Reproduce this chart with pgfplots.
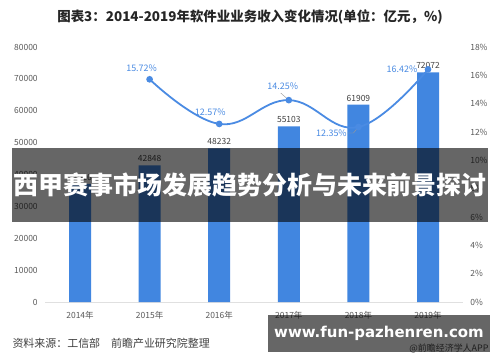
\documentclass[border=0pt]{standalone}
\usepackage{pgfplots}
\pgfplotsset{compat=1.18}
\usepackage{fontspec}
\setmainfont{Noto Sans CJK SC}
\newfontfamily\latinfont{DejaVu Sans}
\definecolor{barblue}{HTML}{4186E0}
\definecolor{lineblue}{HTML}{4A8BE3}
\definecolor{ticktxt}{HTML}{595959}
\definecolor{valtxt}{HTML}{404040}
\begin{document}
\begin{tikzpicture}[x=1bp,y=1bp]
\path[use as bounding box, fill=white] (0,0) rectangle (500,362);
\begin{axis}[
  at={(45.2bp,60bp)}, anchor=south west,
  scale only axis, width=417.6bp, height=255bp,
  xmin=-0.5, xmax=5.5, ymin=0, ymax=80000,
  xtick={0,1,2,3,4,5},
  xticklabels={2014年,2015年,2016年,2017年,2018年,2019年},
  ytick={0,10000,20000,30000,40000,50000,60000,70000,80000},
  scaled y ticks=false,
  /pgf/number format/assume math mode=true,
  yticklabel={\pgfmathprintnumber[fixed,1000 sep={}]{\tick}},
  axis lines*=left,
  y axis line style={draw=none},
  x axis line style={draw=black!12, line width=0.8pt},
  major tick length=0pt,
  tick label style={font=\fontsize{8.5}{10}\selectfont, text=ticktxt},
  yticklabel style={xshift=-4bp},
  xticklabel style={yshift=-6bp},
  clip=false,
]
\addplot[ybar, bar width=22bp, fill=barblue, draw=none,
  nodes near coords,
  nodes near coords style={font=\fontsize{8.5}{10}\selectfont, text=valtxt},
  point meta=explicit symbolic]
  coordinates {(0,37026)[37026] (1,42848)[42848] (2,48232)[48232] (3,55103)[55103] (4,61909)[61909] (5,72072)[72072]};
\end{axis}
\begin{axis}[
  at={(45.2bp,60bp)}, anchor=south west,
  scale only axis, width=417.6bp, height=255bp,
  xmin=-0.5, xmax=5.5, ymin=0, ymax=18,
  axis x line=none,
  axis y line*=right,
  y axis line style={draw=none},
  major tick length=0pt,
  ytick={0,2,4,6,8,10,12,14,16,18},
  yticklabel={\pgfmathprintnumber{\tick}\%},
  /pgf/number format/assume math mode=true,
  tick label style={font=\fontsize{8.5}{10}\selectfont, text=ticktxt},
  yticklabel style={xshift=4bp},
  clip=false,
]
\addplot[lineblue, line width=1.8pt, smooth, tension=0.7, mark=*, mark size=2.4pt, mark options={fill=lineblue, draw=lineblue}]
  coordinates {(1,15.72) (2,12.57) (3,14.25) (4,12.35) (5,16.42)};
\draw[black!40, line width=0.4pt] ([shift={(-8bp,7bp)}]axis cs:3,14.25) -- (axis cs:3,14.25);
\draw[black!40, line width=0.4pt] ([shift={(-11bp,-6bp)}]axis cs:4,12.35) -- ([shift={(-5bp,-6bp)}]axis cs:4,12.35) -- ([shift={(-1bp,-1bp)}]axis cs:4,12.35);
\node[text=lineblue, font=\fontsize{9}{10}\selectfont] at ([shift={(-8bp,11bp)}]axis cs:1,15.72) {15.72\%};
\node[text=lineblue, font=\fontsize{9}{10}\selectfont] at ([shift={(-9bp,12bp)}]axis cs:2,12.57) {12.57\%};
\node[text=lineblue, font=\fontsize{9}{10}\selectfont] at ([shift={(-6bp,14bp)}]axis cs:3,14.25) {14.25\%};
\node[text=lineblue, font=\fontsize{9}{10}\selectfont] at ([shift={(-27bp,-6bp)}]axis cs:4,12.35) {12.35\%};
\node[text=lineblue, font=\fontsize{9}{10}\selectfont] at ([shift={(-26bp,0bp)}]axis cs:5,16.42) {16.42\%};
\end{axis}
% title and source
\node[font=\bfseries\fontsize{13.5}{15}\selectfont, text=black!85] at (250,345) {图表3：2014-2019年软件业业务收入变化情况(单位：亿元，\%)};
\node[anchor=west, font=\fontsize{11}{12}\selectfont, text=black!75] at (9,19) {资料来源：工信部\quad 前瞻产业研究院整理};
\node[anchor=east, font=\fontsize{9}{11}\selectfont, text=black!70] at (492,14) {@前瞻经济学人APP};
% overlay banners
\fill[black, opacity=0.6] (12,140) rectangle (488,214);
\node[text=white, font=\bfseries\fontsize{25}{28}\selectfont] at (250,177) {西甲赛事市场发展趋势分析与未来前景探讨};
\fill[black, opacity=0.6] (268,10) rectangle (490,47);
\node[text=white, font=\latinfont\bfseries\fontsize{15}{18}\selectfont] at (379,28.5) {www.fun-pazhenren.com};
\end{tikzpicture}
\end{document}
